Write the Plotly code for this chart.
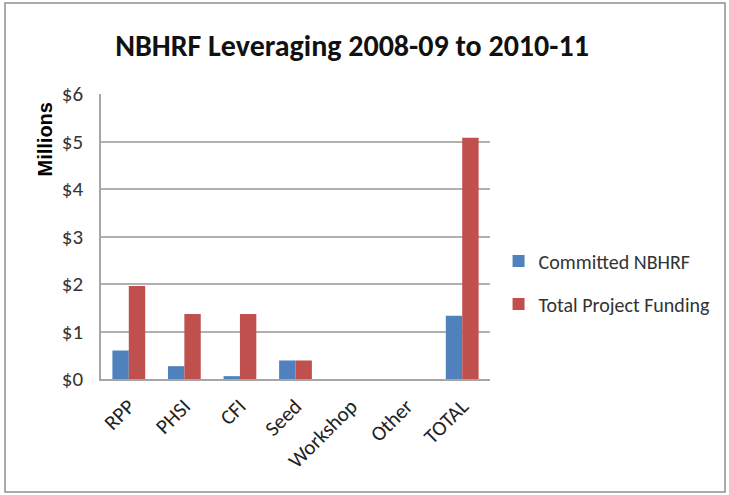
import plotly.graph_objects as go

categories = ["RPP", "PHSI", "CFI", "Seed", "Workshop", "Other", "TOTAL"]
committed = [0.60, 0.27, 0.06, 0.39, 0, 0, 1.33]
total_funding = [1.96, 1.37, 1.37, 0.39, 0, 0, 5.08]
y_ticks = [0, 1, 2, 3, 4, 5, 6]
y_tick_labels = ["$0", "$1", "$2", "$3", "$4", "$5", "$6"]

FONT = "Carlito, 'Liberation Sans Narrow', 'Open Sans', sans-serif"

fig = go.Figure()
fig.add_trace(go.Bar(x=categories, y=committed, name="Committed NBHRF",
                     legendgroup="a",
                     marker=dict(color="#4F81BD", line=dict(width=0))))
fig.add_trace(go.Bar(x=categories, y=total_funding, name="Total Project Funding",
                     legendgroup="b",
                     marker=dict(color="#C0504D", line=dict(width=0))))

fig.update_layout(
    width=729, height=495,
    margin=dict(l=101, r=239, t=94, b=116),
    paper_bgcolor="white", plot_bgcolor="white",
    barmode="group", bargap=0.41, bargroupgap=0,
    font=dict(family=FONT, color="#222222"),
    title=dict(text="<b>NBHRF Leveraging 2008-09 to 2010-11</b>",
               x=352/729, xanchor="center", y=1-45/495, yanchor="middle",
               font=dict(size=30, family=FONT, color="#111111")),
    legend=dict(x=1.022, xanchor="left", y=0.339, yanchor="middle",
                font=dict(size=20, family=FONT, color="#333333"),
                itemsizing="constant", itemwidth=30,
                tracegroupgap=14, traceorder="grouped",
                bgcolor="rgba(0,0,0,0)"),
    showlegend=True,
)
fig.update_xaxes(showline=True, linecolor="#A6A6A6", linewidth=1.5,
                 tickangle=-45, tickfont=dict(size=21, family=FONT, color="#222222"),
                 ticks="", showgrid=False, ticklabelstandoff=5)
fig.update_yaxes(range=[0, 6], tickvals=y_ticks, ticktext=y_tick_labels,
                 showline=True, linecolor="#A6A6A6", linewidth=1.5,
                 showgrid=True, gridcolor="#B0B0B0", gridwidth=1.5,
                 tickfont=dict(size=21, family=FONT, color="#333333"),
                 ticks="", zeroline=False, ticklabelstandoff=12)

fig.add_annotation(text="<b>Millions</b>", xref="paper", yref="paper",
                   x=(44-101)/389, y=(379-139.5)/285, xanchor="center", yanchor="middle",
                   textangle=-90, showarrow=False,
                   font=dict(size=20, family="'Liberation Sans', Arial, sans-serif", color="#000000"))

fig.add_shape(type="rect", xref="paper", yref="paper",
              x0=(5-101)/389, x1=(725-101)/389, y0=(379-492)/285, y1=(379-3)/285,
              line=dict(color="#909090", width=1.5), fillcolor="rgba(0,0,0,0)")

fig.write_html("out.html", config={"displayModeBar": False},
               post_script="document.body.style.margin='0px';")
